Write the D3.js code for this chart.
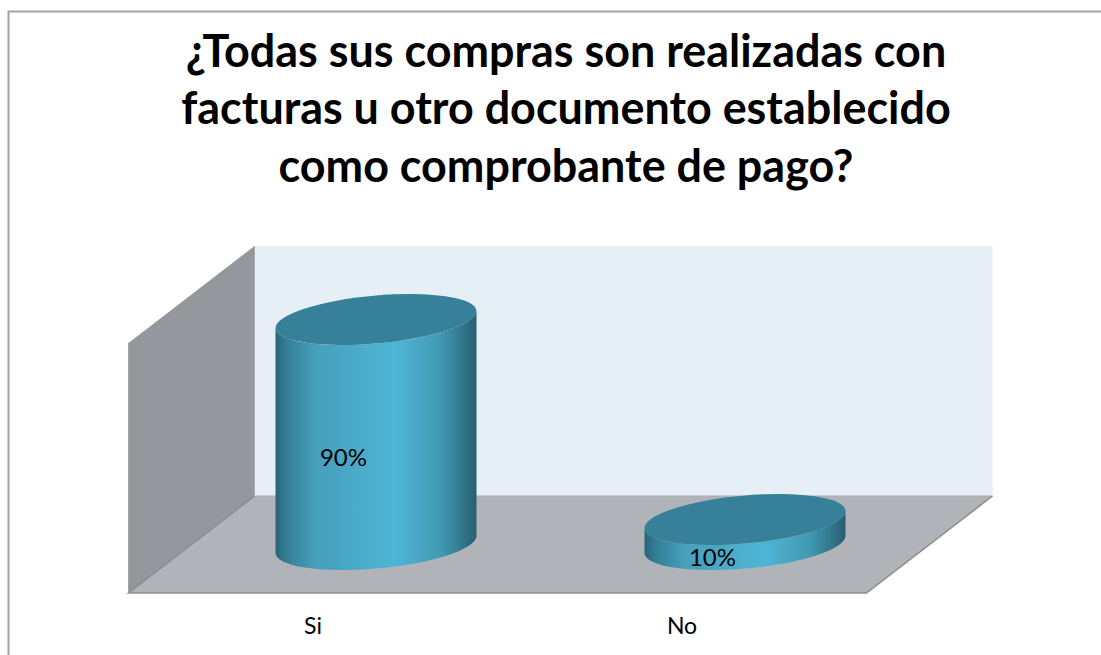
<!DOCTYPE html>
<html><head><meta charset="utf-8">
<style>html,body{margin:0;padding:0;background:#fff;overflow:hidden}svg{display:block}text{font-family:Lato,"Open Sans",sans-serif;fill:#000}</style>
<script src="https://cdn.jsdelivr.net/npm/d3@7/dist/d3.min.js"></script>
</head><body><svg id="c" width="1101" height="655"></svg>
<script>
const titleLines = ["¿Todas sus compras son realizadas con","facturas u otro documento establecido","como comprobante de pago?"];
const categories = ["Si","No"];
const values = [90,10];
const valueLabels = ["90%","10%"];

const W=1101,H=655;
const svg=d3.select("#c");
const defs=svg.append("defs");
const x=d3.scaleBand().domain(categories).range([128.5,866.5]);
const y=d3.scaleLinear().domain([0,100]).range([593,343]);
const dx=126,dy=-97;           // full depth of the floor
const off=[dx/2,dy/2];         // bars stand mid-depth
const r={X:100.5,Y:25.5,tilt:8.5};

// frame
svg.append("path").attr("d",`M8.5,${H}V11.5H${W}`).attr("fill","none").attr("stroke","#a3a3a3").attr("stroke-width",2);

// title
svg.append("g").selectAll("text").data(titleLines).join("text")
  .attr("x",566).attr("y",(d,i)=>[67,124,182][i]).attr("text-anchor","middle")
  .attr("font-size",44.9).attr("font-weight",700).text(d=>d);

// gradients
const g1=defs.append("linearGradient").attr("id","cyl");
[[0,"#296579"],[.06,"#357f97"],[.2,"#45a0bc"],[.6,"#4fb5d5"],[.82,"#4199b4"],[.94,"#317389"],[1,"#285e6f"]]
 .forEach(s=>g1.append("stop").attr("offset",s[0]).attr("stop-color",s[1]));

const y0=y(0),yT=y(100),xL=x.range()[0],xR=x.range()[1];
// back wall, side wall, floor
svg.append("rect").attr("x",xL+dx).attr("y",yT+dy).attr("width",xR-xL).attr("height",y0-yT).attr("fill","#e7eff6");
svg.append("path").attr("d",`M${xL},${y0}L${xL},${yT}L${xL+dx},${yT+dy}L${xL+dx},${y0+dy}Z`).attr("fill","#94979b");
svg.append("path").attr("d",`M${xL},${y0}L${xR},${y0}L${xR+dx},${y0+dy}L${xL+dx},${y0+dy}Z`).attr("fill","#b0b4b8");
svg.append("path").attr("d",`M${xL+dx},${yT+dy}V${y0+dy}H${xR+dx}`).attr("fill","none").attr("stroke","#a9adb1").attr("stroke-width",1);
svg.append("path").attr("d",`M${xL+dx},${y0+dy}L${xL},${y0}H${xR}L${xR+dx},${y0+dy}`).attr("fill","none").attr("stroke","#8c8c8c").attr("stroke-width",1.5);
svg.append("path").attr("d",`M${xL},${y0}V${yT}`).attr("fill","none").attr("stroke","#a4a6a9").attr("stroke-width",1);

// ellipse parameters from extents
const C=r.tilt*r.X, sum=r.X*r.X+r.Y*r.Y, diff=r.X*r.X-r.Y*r.Y;
const th=Math.atan2(2*C,diff)/2, ad=diff/Math.cos(2*th);
const a=Math.sqrt((sum+ad)/2), b=Math.sqrt((sum-ad)/2), rot=-th*180/Math.PI;

const bars=svg.append("g").selectAll("g").data(categories.map((c,i)=>({c,v:values[i],l:valueLabels[i]}))).join("g");
bars.each(function(d){
  const g=d3.select(this);
  const cx=x(d.c)+x.bandwidth()/2+off[0];
  const base=y(0)+off[1], top=y(d.v)+off[1];
  const lx=cx-r.X, rx=cx+r.X;
  g.append("path").attr("fill","url(#cyl)")
   .attr("d",`M${lx},${top+r.tilt}L${lx},${base+r.tilt}A${a},${b} ${rot} 0 0 ${rx},${base-r.tilt}L${rx},${top-r.tilt}A${a},${b} ${rot} 0 1 ${lx},${top+r.tilt}Z`);
  g.append("ellipse").attr("cx",0).attr("cy",0).attr("rx",a).attr("ry",b)
   .attr("transform",`translate(${cx},${top}) rotate(${rot})`).attr("fill","#37809a");
  g.append("text").attr("x",cx-32.5).attr("y",(base+top)/2+33.5).attr("text-anchor","middle").attr("font-size",24).text(d.l);
});

// category labels
svg.append("g").selectAll("text").data(categories).join("text")
  .attr("x",d=>x(d)+x.bandwidth()/2).attr("y",634).attr("text-anchor","middle").attr("font-size",23).text(d=>d);
</script></body></html>
